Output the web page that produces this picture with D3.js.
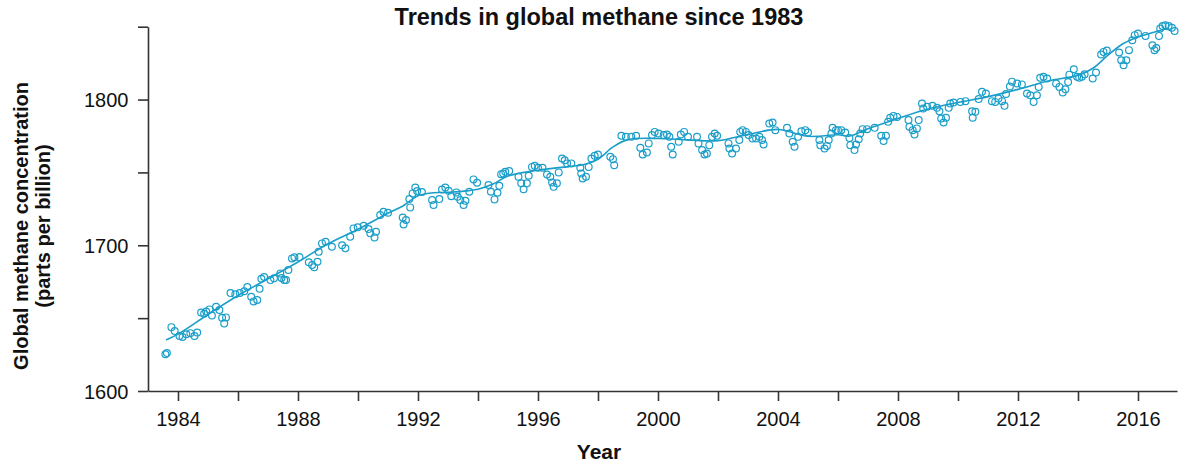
<!DOCTYPE html>
<html>
<head>
<meta charset="utf-8">
<script src="https://cdn.jsdelivr.net/npm/d3@7"></script>
<style>
  html, body { margin: 0; padding: 0; background: #ffffff; }
  svg { display: block; }
  text { font-family: "Liberation Sans", Arial, Helvetica, sans-serif; fill: #111; }
</style>
</head>
<body>
<svg id="chart" width="1182" height="462"></svg>
<script>
// ---- Data ----
const obsYear = [
  1983.58,1983.63,1983.78,1983.89,1984.05,1984.15,1984.28,1984.41,1984.55,1984.64,1984.77,1984.87,1984.94,
  1985.05,1985.13,1985.27,1985.38,1985.47,1985.54,1985.60,1985.75,1985.91,
  1986.06,1986.21,1986.31,1986.44,1986.52,1986.64,1986.72,1986.78,1986.87,
  1987.08,1987.20,1987.41,1987.45,1987.54,1987.60,1987.68,1987.80,1987.88,
  1988.05,1988.36,1988.47,1988.54,1988.65,1988.69,1988.80,1988.92,
  1989.13,1989.47,1989.58,1989.74,1989.85,1989.99,
  1990.19,1990.35,1990.41,1990.55,1990.60,1990.74,1990.85,1991.00,
  1991.49,1991.52,1991.60,1991.71,1991.74,1991.82,1991.91,1991.97,
  1992.13,1992.47,1992.52,1992.71,1992.80,1992.91,
  1993.02,1993.11,1993.28,1993.32,1993.41,1993.52,1993.58,1993.71,1993.85,1993.97,
  1994.35,1994.43,1994.55,1994.65,1994.71,1994.77,1994.84,1994.91,
  1995.04,1995.35,1995.44,1995.52,1995.63,1995.69,1995.80,1995.89,
  1996.00,1996.15,1996.30,1996.41,1996.47,1996.52,1996.63,1996.69,1996.80,1996.89,1996.97,
  1997.11,1997.41,1997.44,1997.49,1997.60,1997.69,1997.78,1997.89,
  1998.00,1998.41,1998.50,1998.54,1998.78,1998.93,
  1999.11,1999.27,1999.41,1999.49,1999.63,1999.69,1999.80,1999.89,
  2000.02,2000.19,2000.30,2000.38,2000.44,2000.49,2000.69,2000.76,2000.87,
  2001.00,2001.30,2001.35,2001.47,2001.55,2001.63,2001.71,2001.80,2001.89,2001.97,
  2002.35,2002.38,2002.47,2002.60,2002.71,2002.74,2002.82,2002.93,
  2003.02,2003.15,2003.27,2003.38,2003.47,2003.52,2003.71,2003.82,2003.91,
  2004.30,2004.38,2004.49,2004.55,2004.67,2004.78,2004.91,
  2005.00,2005.38,2005.41,2005.55,2005.63,2005.69,2005.78,2005.82,2005.93,
  2006.00,2006.11,2006.24,2006.38,2006.41,2006.55,2006.60,2006.69,2006.74,2006.82,2006.97,
  2007.22,2007.44,2007.52,2007.60,2007.67,2007.74,2007.85,2007.97,
  2008.35,2008.38,2008.49,2008.55,2008.63,2008.69,2008.80,2008.84,2008.97,
  2009.15,2009.30,2009.38,2009.44,2009.52,2009.60,2009.69,2009.74,2009.85,
  2010.08,2010.25,2010.47,2010.49,2010.58,2010.69,2010.80,2010.93,
  2011.13,2011.24,2011.35,2011.47,2011.55,2011.60,2011.73,2011.80,2011.97,
  2012.13,2012.30,2012.41,2012.52,2012.63,2012.69,2012.74,2012.85,2012.97,
  2013.27,2013.38,2013.49,2013.58,2013.67,2013.71,2013.86,2013.97,
  2014.04,2014.13,2014.22,2014.49,2014.60,2014.77,2014.85,2014.96,
  2015.37,2015.44,2015.52,2015.61,2015.70,2015.81,2015.89,
  2016.00,2016.25,2016.48,2016.55,2016.61,2016.70,2016.74,2016.82,2016.91,
  2017.02,2017.13,2017.22
];
const obsPpb = [
  1625.2,1626.0,1643.8,1641.2,1637.7,1637.1,1638.9,1639.7,1637.7,1640.1,1653.8,1653.0,1654.6,
  1656.0,1651.8,1657.8,1655.6,1650.2,1646.4,1650.5,1667.2,1666.4,
  1667.3,1668.5,1671.3,1664.7,1661.5,1662.4,1670.2,1677.0,1678.2,
  1676.1,1677.3,1680.7,1677.5,1676.1,1676.1,1683.0,1691.0,1691.7,
  1691.9,1688.3,1686.4,1685.0,1688.7,1695.5,1701.3,1702.4,
  1699.0,1700.0,1697.9,1705.8,1711.6,1712.3,
  1713.4,1711.1,1708.2,1705.4,1709.3,1720.7,1723.0,1722.3,
  1719.1,1714.3,1717.3,1731.7,1726.0,1735.6,1739.7,1737.2,
  1736.5,1731.0,1727.6,1731.7,1738.3,1739.7,
  1737.4,1733.7,1736.3,1733.3,1731.0,1727.6,1730.5,1736.7,1745.2,1742.9,
  1741.3,1736.7,1731.5,1736.0,1740.8,1748.8,1749.3,1750.4,
  1750.9,1747.0,1742.5,1738.5,1742.5,1747.7,1753.8,1754.5,
  1753.2,1753.2,1748.6,1747.0,1743.1,1740.1,1742.5,1750.0,1759.6,1758.4,1756.2,
  1756.2,1753.2,1749.3,1745.9,1747.0,1753.8,1759.6,1761.4,
  1762.3,1760.7,1759.1,1755.0,1775.1,1774.4,
  1774.4,1775.1,1766.9,1762.3,1763.7,1769.9,1775.6,1777.8,
  1776.7,1775.6,1776.0,1774.4,1767.6,1762.3,1771.0,1776.0,1777.8,
  1774.4,1774.4,1769.9,1765.3,1762.3,1763.0,1768.7,1774.4,1776.7,1775.1,
  1769.9,1766.4,1763.0,1766.4,1772.2,1777.8,1779.0,1777.8,
  1775.6,1773.3,1773.3,1774.4,1772.2,1769.2,1783.6,1784.3,1779.0,
  1780.6,1776.7,1771.0,1767.6,1774.4,1778.3,1779.0,
  1777.4,1772.2,1768.7,1766.4,1768.2,1772.2,1776.7,1780.6,1779.0,
  1779.0,1779.0,1777.4,1773.7,1768.7,1765.3,1769.2,1772.8,1776.7,1779.7,1779.7,
  1780.6,1775.1,1771.5,1775.1,1784.7,1787.5,1788.8,1788.1,
  1785.9,1781.3,1779.0,1776.0,1780.2,1785.9,1797.3,1793.9,1795.0,
  1795.7,1794.3,1792.0,1787.0,1784.3,1787.5,1794.3,1797.3,1798.0,
  1798.4,1798.9,1792.0,1787.5,1791.6,1800.3,1805.3,1804.2,
  1798.9,1798.4,1800.7,1798.9,1795.7,1803.8,1809.0,1812.3,1811.0,
  1810.4,1804.2,1803.0,1798.4,1803.0,1808.7,1814.9,1815.6,1814.5,
  1811.0,1808.7,1804.9,1807.1,1812.1,1817.1,1820.8,1815.6,
  1814.9,1815.6,1817.3,1814.5,1818.6,1830.9,1832.7,1833.6,
  1832.3,1827.0,1823.6,1827.0,1833.9,1840.7,1844.2,
  1845.3,1843.7,1837.3,1833.9,1835.4,1843.7,1848.7,1850.5,1851.0,
  1850.5,1849.2,1847.0
];
const trendYear = [1983.6,1984,1985,1986,1987,1988,1989,1990,1991,1991.5,1992,1992.5,1993,1994,1994.5,1995,1996,1997,1997.5,1998,1998.5,1999,2000,2001,2002,2003,2004,2005,2006,2006.4,2007,2008,2009,2010,2011,2012,2013,2014,2014.5,2015,2015.5,2016,2016.5,2016.9,2017.1];
const trendPpb  = [1635,1639,1652.5,1665.5,1677,1688.5,1701,1711,1722,1727,1734,1736,1736.3,1738.5,1742,1747.5,1751.5,1754,1755.3,1759,1767.5,1772.5,1773.3,1772.3,1771.8,1776,1779.5,1774.8,1775.8,1775,1780,1787,1793.5,1798,1802,1807,1812.8,1816.7,1821.5,1830.5,1838.3,1843,1846,1848.3,1847.5];

const xTicks = [1984,1986,1988,1990,1992,1994,1996,1998,2000,2002,2004,2006,2008,2010,2012,2014,2016];
const xTickLabels = [1984,1988,1992,1996,2000,2004,2008,2012,2016];
const yTicks = [1600,1650,1700,1750,1800,1850];
const yTickLabels = [1600,1700,1800];

const titleText = "Trends in global methane since 1983";
const xTitle = "Year";
const yTitleLines = ["Global methane concentration", "(parts per billion)"];

// ---- Chart ----
const color = "#1a9ec9";
const axisColor = "#333333";
const svg = d3.select("#chart");
const m = { left: 148, right: 1177, top: 26.7, bottom: 391 };

const x = d3.scaleLinear().domain([1983, 2017.3]).range([m.left, m.right]);
const y = d3.scaleLinear().domain([1600, 1850]).range([m.bottom, m.top]);

const xAxis = d3.axisBottom(x).tickValues(xTicks).tickSize(10).tickSizeOuter(0)
  .tickFormat(d => xTickLabels.includes(d) ? String(d) : "");
const yAxis = d3.axisLeft(y).tickValues(yTicks).tickSize(10).tickSizeOuter(0)
  .tickFormat(d => yTickLabels.includes(d) ? String(d) : "");

const gx = svg.append("g").attr("transform", `translate(0,${m.bottom})`).call(xAxis);
const gy = svg.append("g").attr("transform", `translate(${m.left},0)`).call(yAxis);
[gx, gy].forEach(g => {
  g.selectAll("path.domain").attr("stroke", axisColor).attr("stroke-width", 1.6);
  g.selectAll(".tick line").attr("stroke", axisColor).attr("stroke-width", 1.6);
  g.selectAll(".tick text").attr("fill", "#111").style("font-size", "20px")
    .style("font-family", "'Liberation Sans', Arial, sans-serif");
});
gx.selectAll(".tick text").attr("dy", "0").attr("y", 35);
gy.selectAll(".tick text").attr("x", -19.5).attr("dy", "0.35em");

// trend line
const line = d3.line().x((d, i) => x(trendYear[i])).y((d, i) => y(trendPpb[i]))
  .curve(d3.curveCatmullRom.alpha(0.5));
svg.append("path").datum(trendPpb).attr("d", line)
  .attr("fill", "none").attr("stroke", color).attr("stroke-width", 1.6);

// observations
svg.append("g").selectAll("circle").data(obsPpb).join("circle")
  .attr("cx", (d, i) => x(obsYear[i]))
  .attr("cy", d => y(d))
  .attr("r", 3.4)
  .attr("fill", "none")
  .attr("stroke", color)
  .attr("stroke-width", 1.2);

// titles
svg.append("text").attr("x", 599).attr("y", 25).attr("text-anchor", "middle")
  .style("font-size", "23.5px").style("font-weight", "bold").text(titleText);
svg.append("text").attr("x", 599).attr("y", 459).attr("text-anchor", "middle")
  .style("font-size", "21px").style("font-weight", "bold").text(xTitle);
const yl = svg.append("text").attr("transform", "translate(28,226) rotate(-90)")
  .attr("text-anchor", "middle").style("font-size", "20px").style("font-weight", "bold");
yl.append("tspan").attr("x", 0).attr("y", 0).text(yTitleLines[0]);
yl.append("tspan").attr("x", 0).attr("y", 22).text(yTitleLines[1]);
</script>
</body>
</html>
